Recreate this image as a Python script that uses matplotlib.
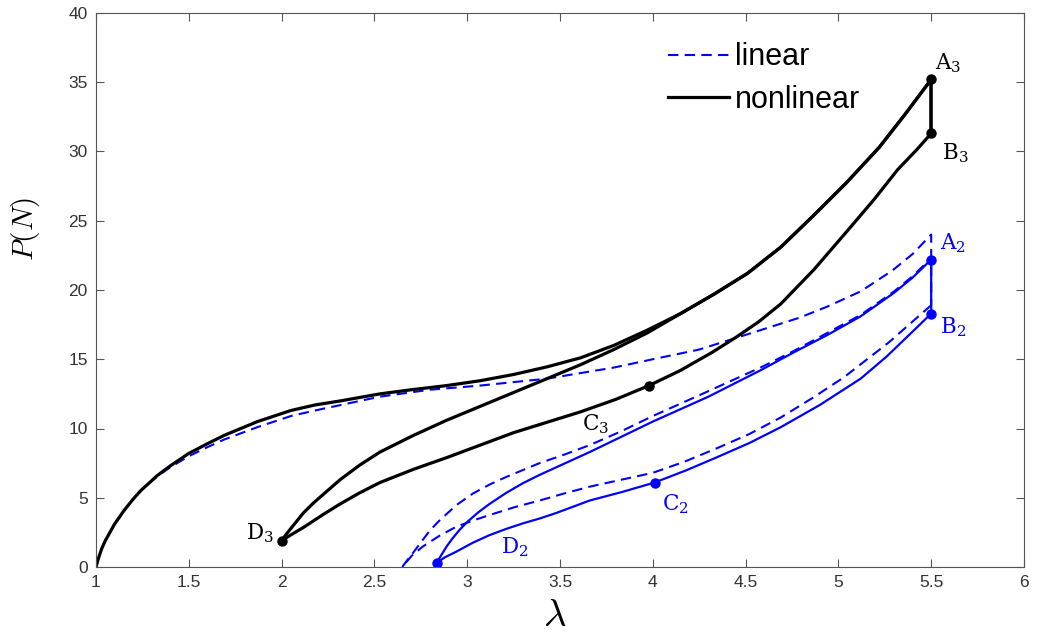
import matplotlib
matplotlib.use("Agg")
import matplotlib.pyplot as plt

plt.rcParams['font.family'] = ['Liberation Sans', 'DejaVu Sans']
plt.rcParams['mathtext.fontset'] = 'cm'

# nonlinear model (black): loading, relaxation, unloading, reloading
nl_load_x = [1.0, 1.01, 1.03, 1.05, 1.075, 1.1, 1.15, 1.2, 1.24, 1.33, 1.4, 1.5,
             1.6, 1.69, 1.78, 1.87, 1.96, 2.05, 2.18, 2.32, 2.53, 2.7, 2.89,
             3.07, 3.25, 3.43, 3.61, 3.79, 3.97, 4.15, 4.33, 4.51, 4.69, 4.86,
             5.04, 5.22, 5.36, 5.5]
nl_load_y = [0.0, 0.5, 1.3, 1.9, 2.5, 3.1, 4.06, 4.9, 5.5, 6.6, 7.3, 8.2,
             8.9, 9.5, 10.0, 10.5, 10.9, 11.3, 11.7, 12.0, 12.5, 12.8, 13.1,
             13.45, 13.9, 14.45, 15.1, 16.0, 17.1, 18.3, 19.7, 21.2, 23.1, 25.3,
             27.7, 30.3, 32.7, 35.2]
nl_unload_x = [5.5, 5.42, 5.32, 5.19, 5.05, 4.87, 4.69, 4.57, 4.45, 4.32, 4.15,
               3.98, 3.8, 3.61, 3.43, 3.25, 3.07, 2.89, 2.71, 2.53, 2.42, 2.315,
               2.225, 2.117, 2.06, 2.0]
nl_unload_y = [31.3, 30.1, 28.7, 26.5, 24.3, 21.5, 19.0, 17.7, 16.6, 15.5, 14.2,
               13.1, 12.1, 11.2, 10.45, 9.7, 8.8, 7.9, 7.05, 6.1, 5.35, 4.55,
               3.8, 2.85, 2.4, 1.9]
nl_reload_x = [2.0, 2.03, 2.06, 2.117, 2.17, 2.225, 2.315, 2.42, 2.53, 2.71, 2.89,
               3.07, 3.25, 3.43, 3.61, 3.79, 3.97, 4.15, 4.33, 4.51, 4.69, 4.86,
               5.04, 5.22, 5.36, 5.5]
nl_reload_y = [1.9, 2.45, 2.95, 3.9, 4.6, 5.25, 6.3, 7.35, 8.3, 9.5, 10.6,
               11.6, 12.6, 13.6, 14.6, 15.7, 16.9, 18.3, 19.7, 21.2, 23.1, 25.3,
               27.7, 30.3, 32.7, 35.2]

# linear model (blue dashed)
lin_load_x = [1.0, 1.01, 1.03, 1.05, 1.075, 1.1, 1.15, 1.2, 1.24, 1.33, 1.4, 1.5,
              1.6, 1.69, 1.78, 1.87, 1.96, 2.05, 2.18, 2.32, 2.53, 2.8, 3.07,
              3.43, 3.79, 4.0, 4.25, 4.58, 4.79, 4.94, 5.12, 5.29, 5.4, 5.5, 5.5]
lin_load_y = [0.0, 0.5, 1.3, 1.9, 2.5, 3.1, 4.06, 4.9, 5.5, 6.55, 7.2, 8.0,
              8.65, 9.2, 9.65, 10.1, 10.5, 10.9, 11.3, 11.7, 12.3, 12.8, 13.1,
              13.6, 14.4, 15.0, 15.7, 17.1, 18.0, 18.8, 19.9, 21.4, 22.6, 24.0, 18.9]
lin_unload_x = [5.5, 5.27, 5.03, 4.86, 4.69, 4.52, 4.35, 4.17, 4.0, 3.83, 3.66,
                3.52, 3.39, 3.25, 3.12, 3.03, 2.94, 2.85, 2.76, 2.7, 2.65]
lin_unload_y = [18.9, 16.2, 13.7, 12.2, 10.8, 9.6, 8.6, 7.6, 6.8, 6.3, 5.8,
                5.3, 4.8, 4.3, 3.75, 3.35, 2.9, 2.25, 1.47, 0.8, 0.0]
lin_reload_x = [2.65, 2.68, 2.71, 2.76, 2.8, 2.85, 2.94, 3.03, 3.12, 3.21, 3.39,
                3.52, 3.66, 3.83, 4.0, 4.15, 4.3, 4.44, 4.58, 4.76, 4.94, 5.12,
                5.3, 5.4, 5.5]
lin_reload_y = [0.0, 0.55, 1.05, 1.95, 2.65, 3.35, 4.45, 5.3, 5.95, 6.5, 7.5,
                8.1, 8.8, 9.8, 10.9, 11.8, 12.7, 13.55, 14.4, 15.6, 16.9, 18.2,
                19.9, 21.0, 22.3]

# linear model, second cycle (blue solid)
cyc_upper_x = [2.835, 2.86, 2.89, 2.92, 2.96, 3.0, 3.06, 3.12, 3.21, 3.30, 3.39,
               3.48, 3.57, 3.66, 3.83, 4.0, 4.15, 4.3, 4.44, 4.58, 4.76, 4.94,
               5.12, 5.30, 5.4, 5.5, 5.5]
cyc_upper_y = [0.3, 0.85, 1.5, 2.05, 2.7, 3.25, 3.95, 4.55, 5.35, 6.05, 6.65,
               7.2, 7.75, 8.3, 9.4, 10.5, 11.4, 12.3, 13.25, 14.2, 15.5, 16.75,
               18.1, 19.8, 20.9, 22.2, 18.3]
cyc_lower_x = [5.5, 5.40, 5.26, 5.12, 4.9, 4.69, 4.52, 4.35, 4.18, 4.01, 3.83,
               3.66, 3.57, 3.48, 3.39, 3.30, 3.21, 3.12, 3.03, 2.94, 2.88, 2.835]
cyc_lower_y = [18.3, 17.0, 15.2, 13.6, 11.7, 10.1, 8.95, 7.95, 6.98, 6.1, 5.4,
               4.8, 4.35, 3.9, 3.5, 3.15, 2.75, 2.3, 1.75, 1.1, 0.7, 0.3]

# labelled points
pts3_x = [5.5, 5.5, 3.98, 2.0]
pts3_y = [35.2, 31.3, 13.1, 1.9]
pts2_x = [5.5, 5.5, 4.01, 2.835]
pts2_y = [22.2, 18.3, 6.1, 0.3]

fig = plt.figure(figsize=(10.37, 6.34), dpi=100)
ax = fig.add_axes([96 / 1037, 1 - 567 / 634, 928 / 1037, 554 / 634])

dash = (5, 3)
ax.plot(lin_load_x, lin_load_y, color='blue', lw=1.5, dashes=dash, label='linear')
ax.plot(lin_unload_x, lin_unload_y, color='blue', lw=1.5, dashes=dash)
ax.plot(lin_reload_x, lin_reload_y, color='blue', lw=1.5, dashes=dash)

ax.plot(nl_load_x, nl_load_y, color='black', lw=2.3, label='nonlinear')
ax.plot([5.5, 5.5], [35.2, 31.3], color='black', lw=2.6)
ax.plot(nl_unload_x, nl_unload_y, color='black', lw=2.3)
ax.plot(nl_reload_x, nl_reload_y, color='black', lw=2.3)

ax.plot(cyc_upper_x, cyc_upper_y, color='blue', lw=1.6)
ax.plot(cyc_lower_x, cyc_lower_y, color='blue', lw=1.6)

ax.plot(pts3_x, pts3_y, 'o', color='black', ms=6.5, ls='none')
ax.plot(pts2_x, pts2_y, 'o', color='blue', ms=6.5, ls='none')

lab = dict(fontsize=15.5, va='center', math_fontfamily='dejavuserif')
ax.text(5.52, 36.4, r'$\mathrm{A}_3$', color='black', ha='left', **lab)
ax.text(5.56, 29.9, r'$\mathrm{B}_3$', color='black', ha='left', **lab)
ax.text(3.62, 10.3, r'$\mathrm{C}_3$', color='black', ha='left', **lab)
ax.text(1.96, 2.45, r'$\mathrm{D}_3$', color='black', ha='right', **lab)
ax.text(5.55, 23.4, r'$\mathrm{A}_2$', color='blue', ha='left', **lab)
ax.text(5.55, 17.3, r'$\mathrm{B}_2$', color='blue', ha='left', **lab)
ax.text(4.05, 4.5, r'$\mathrm{C}_2$', color='blue', ha='left', **lab)
ax.text(3.18, 1.4, r'$\mathrm{D}_2$', color='blue', ha='left', **lab)

ax.set_xlim(1, 6)
ax.set_ylim(0, 40)
ax.set_xticks([1, 1.5, 2, 2.5, 3, 3.5, 4, 4.5, 5, 5.5, 6])
ax.set_xticklabels(['1', '1.5', '2', '2.5', '3', '3.5', '4', '4.5', '5', '5.5', '6'])
ax.set_yticks(range(0, 41, 5))
ax.tick_params(direction='in', length=6, width=0.8, top=True, right=True,
               labelsize=12.5, colors='#555555', labelcolor='#333333', pad=6)
for s in ax.spines.values():
    s.set_color('#555555')
    s.set_linewidth(0.8)

ax.set_xlabel(r'$\lambda$', fontsize=28)
ax.set_ylabel(r'$P(N)$', fontsize=21)
ax.xaxis.set_label_coords(0.494, -0.056)
ax.yaxis.set_label_coords(-0.058, 0.61)

ax.legend(loc='upper left', bbox_to_anchor=(0.616, 0.947), frameon=False,
          fontsize=22, handlelength=2.0, handletextpad=0.2, labelspacing=0.4,
          borderpad=0, borderaxespad=0)

fig.savefig('out.png', dpi=100)
